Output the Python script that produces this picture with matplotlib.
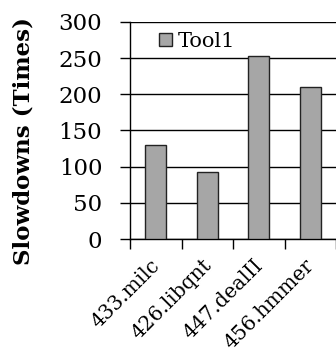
import numpy as np
import matplotlib.pyplot as plt
import matplotlib.transforms as mtransforms

benchmarks = ["433.milc", "426.libqnt", "447.dealII", "456.hmmer"]
tool1 = [130, 93, 253, 210]
yticks = [0, 50, 100, 150, 200, 250, 300]

plt.rcParams['font.family'] = ['DejaVu Serif']

fig = plt.figure(figsize=(3.36, 3.52), dpi=100)
ax = fig.add_axes([0.387, 0.321, 0.613, 0.617])

x = np.arange(len(benchmarks))
ax.bar(x, tool1, width=0.4, color='#A6A6A6', edgecolor='#222222', linewidth=1,
       label='Tool1', zorder=3)

ax.set_ylim(0, 300)
ax.set_xlim(-0.5, 3.44)
ax.set_yticks(yticks)
ax.set_yticklabels([str(v) for v in yticks], fontsize=16.5)
ax.yaxis.grid(True, color='black', linewidth=1, zorder=0)
ax.set_axisbelow(True)
ax.tick_params(axis='y', length=7, width=1, direction='out', pad=13)

ax.set_xticks(x)
ax.set_xticklabels(benchmarks, rotation=45, ha='right', va='center',
                   rotation_mode='anchor', fontsize=14.5)
ax.set_xticks(np.arange(-0.5, 4, 1.0), minor=True)
ax.tick_params(axis='x', which='major', length=0, pad=17)
ax.tick_params(axis='x', which='minor', length=7, width=1, direction='out')
shift = mtransforms.ScaledTranslation(1 / 100, 0, fig.dpi_scale_trans)
for lbl in ax.get_xticklabels():
    lbl.set_transform(lbl.get_transform() + shift)

for s in ['top', 'right']:
    ax.spines[s].set_visible(False)
ax.spines['left'].set_linewidth(1)
ax.spines['bottom'].set_linewidth(1)

ax.set_ylabel("Slowdowns (Times)", fontsize=16.5, fontweight='bold')
ax.yaxis.set_label_coords(-0.465, 0.45)

ax.legend(loc='upper left', frameon=False, fontsize=15, handlelength=0.6,
          handleheight=0.6, handletextpad=0.3, borderaxespad=0.2,
          bbox_to_anchor=(0.08, 1.01))

fig.savefig("out.png", dpi=100)
